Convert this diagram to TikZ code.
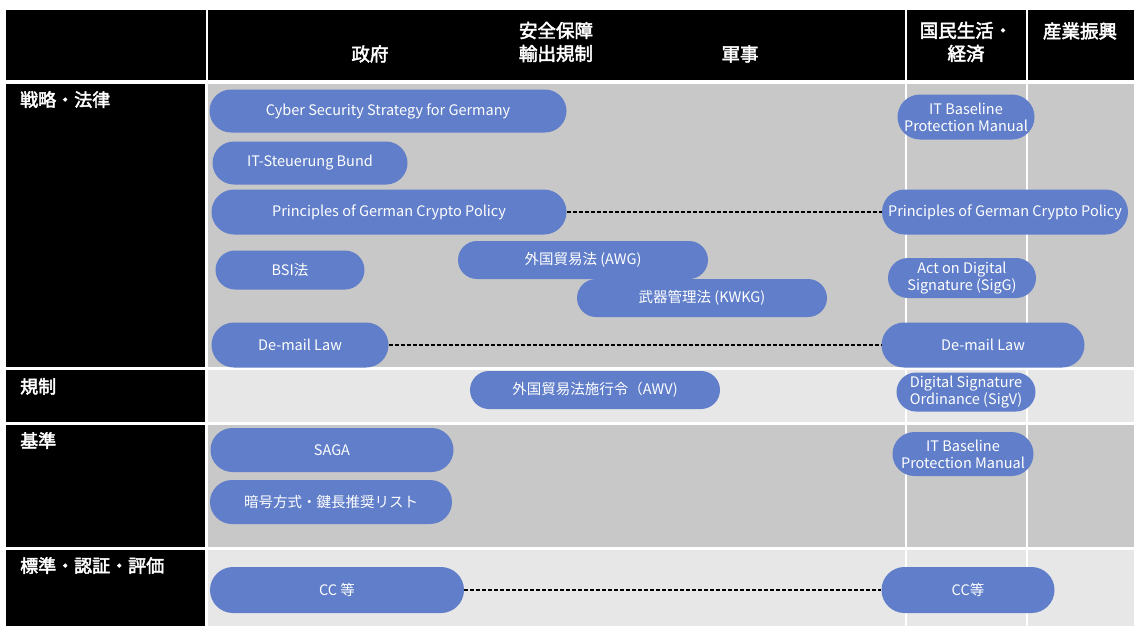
\documentclass[tikz,border=0pt]{standalone}
\usepackage{fontspec}
\setmainfont{Noto Sans CJK JP}
\newfontfamily\jpb{Noto Sans CJK JP}[FakeBold=2.5]
\usetikzlibrary{shapes.misc}
\definecolor{pillblue}{RGB}{96,126,201}
\definecolor{rowdark}{RGB}{200,200,200}
\definecolor{rowlight}{RGB}{231,231,231}
\tikzset{
  pill/.style={rounded rectangle, fill=pillblue, text=white, inner sep=0pt, align=center,
    font=\fontsize{14.5}{17}\selectfont},
  hdr/.style={text=white, font=\jpb\fontsize{18.5}{23}\selectfont, align=center},
  lbl/.style={text=white, font=\jpb\fontsize{18}{20}\selectfont, anchor=north west, inner sep=0pt},
  link/.style={draw=black, line width=1.3pt, dash pattern=on 4pt off 2pt},
  sep/.style={draw=white, line width=1.2pt}
}
\begin{document}
\begin{tikzpicture}[x=1pt,y=-1pt]
\useasboundingbox (0,0) rectangle (1134,626);
\fill[white] (0,0) rectangle (1134,626);
% header
\fill[black] (6,10) rectangle (1134,80);
\draw[sep] (207,10) -- (207,80);
\draw[sep] (906,10) -- (906,80);
\draw[sep] (1027,10) -- (1027,80);
\node[hdr] (hgov) at (370,54) {政府};
\node[hdr] (hsec) at (556,42) {安全保障\\輸出規制};
\node[hdr] (hmil) at (740,54) {軍事};
\node[hdr] (hlife) at (966,42) {国民生活・\\経済};
\node[hdr] (hind) at (1080,31) {産業振興};
% row backgrounds
\fill[rowdark] (208,84) rectangle (1134,367);
\fill[rowlight] (208,370) rectangle (1134,422);
\fill[rowdark] (208,425) rectangle (1134,547);
\fill[rowlight] (208,550) rectangle (1134,626);
% left labels
\fill[black] (6,84) rectangle (205,367);
\fill[black] (6,370) rectangle (205,422);
\fill[black] (6,425) rectangle (205,547);
\fill[black] (6,550) rectangle (205,626);
\node[lbl] (l1) at (20,91) {戦略・法律};
\node[lbl] (l2) at (20,378) {規制};
\node[lbl] (l3) at (20,432) {基準};
\node[lbl] (l4) at (20,557) {標準・認証・評価};
% column separators
\draw[sep] (906,84) -- (906,626);
\draw[sep] (1027,84) -- (1027,626);
% pills
\node[pill, minimum width=357pt, minimum height=43pt] (css) at (388,111) {Cyber Security Strategy for Germany};
\node[pill, minimum width=195pt, minimum height=43pt] (itsb) at (310,163) {IT-Steuerung Bund};
\node[pill, minimum width=355pt, minimum height=45pt] (pgcl) at (389,212) {Principles of German Crypto Policy};
\node[pill, minimum width=149pt, minimum height=39pt] (bsi) at (290,270) {BSI法};
\node[pill, minimum width=250pt, minimum height=38pt] (awg) at (583,260) {外国貿易法 (AWG)};
\node[pill, minimum width=250pt, minimum height=38pt] (kwkg) at (702,298) {武器管理法 (KWKG)};
\node[pill, minimum width=177pt, minimum height=45pt] (deml) at (300,345) {De-mail Law};
\node[pill, minimum width=137pt, minimum height=45pt] (itb1) at (966,117) {IT Baseline\\Protection Manual};
\node[pill, minimum width=246pt, minimum height=45pt] (pgcr) at (1005,212) {Principles of German Crypto Policy};
\node[pill, minimum width=148pt, minimum height=40pt] (sigg) at (962,278) {Act on Digital\\Signature (SigG)};
\node[pill, minimum width=203pt, minimum height=45pt] (demr) at (983,345) {De-mail Law};
\node[pill, minimum width=250pt, minimum height=38pt] (awv) at (595,390) {外国貿易法施行令（AWV)};
\node[pill, minimum width=139pt, minimum height=39pt] (sigv) at (966,392) {Digital Signature\\Ordinance (SigV)};
\node[pill, minimum width=243pt, minimum height=44pt] (saga) at (332,450) {SAGA};
\node[pill, minimum width=141pt, minimum height=44pt] (itb2) at (963,454) {IT Baseline\\Protection Manual};
\node[pill, minimum width=242pt, minimum height=44pt] (ango) at (331,502) {暗号方式・鍵長推奨リスト};
\node[pill, minimum width=254pt, minimum height=46pt] (ccl) at (337,590) {CC 等};
\node[pill, minimum width=173pt, minimum height=46pt] (ccr) at (968,590) {CC等};
% links
\draw[link] (pgcl.east) -- (pgcr.west);
\draw[link] (deml.east) -- (demr.west);
\draw[link] (ccl.east) -- (ccr.west);
\end{tikzpicture}
\end{document}
